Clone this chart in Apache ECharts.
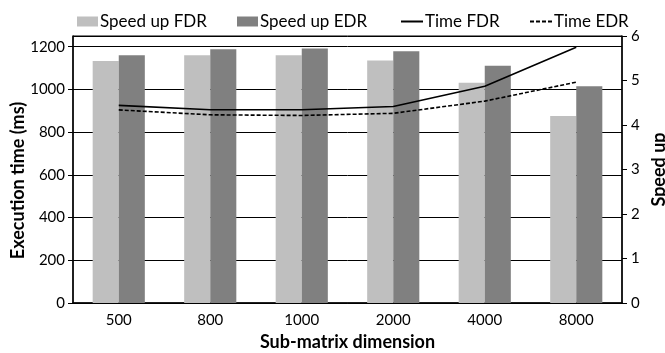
<!DOCTYPE html>
<html>
<head>
<meta charset="utf-8">
<script src="https://cdn.jsdelivr.net/npm/echarts@6/dist/echarts.min.js"></script>
<style>
  html, body { margin: 0; padding: 0; background: #fff; }
  #chart { width: 665px; height: 353px; }
</style>
</head>
<body>
<div id="chart"></div>
<script>
// values
const dims = ['500', '800', '1000', '2000', '4000', '8000'];
const speedupFDR = [5.44, 5.57, 5.57, 5.45, 4.95, 4.20];
const speedupEDR = [5.57, 5.70, 5.72, 5.66, 5.33, 4.87];
const timeFDR = [925, 905, 905, 920, 1015, 1197];
const timeEDR = [904, 881, 878, 888, 945, 1034];

const font = 'Lato';
const tickText = { fontFamily: font, fontSize: 15, color: '#000' };
const titleText = { fontFamily: font, fontSize: 18, fontWeight: 'bold', color: '#000' };
const legendText = { fontFamily: font, fontSize: 17, color: '#000' };

// one legend box per entry so each sits where the reference has it
function legendAt(left, name, isLine) {
  const item = { name: name };
  if (isLine) item.itemStyle = { color: 'rgba(0,0,0,0)', borderWidth: 0 };
  else item.icon = 'rect';
  return {
    left: left,
    top: 8,
    itemWidth: isLine ? 22 : 21,
    itemHeight: 10,
    textStyle: Object.assign({ padding: [0, 0, 0, -3] }, legendText),
    data: [item]
  };
}

const chart = echarts.init(document.getElementById('chart'));

chart.setOption({
  animation: false,
  legend: [
    legendAt(72, 'Speed up FDR', false),
    legendAt(232, 'Speed up EDR', false),
    legendAt(395, 'Time FDR', true),
    legendAt(524, 'Time EDR', true)
  ],
  grid: {
    left: 73,
    right: 43,
    top: 36,
    bottom: 50,
    outerBoundsMode: 'none',
    show: true,
    borderColor: '#000',
    borderWidth: 1
  },
  xAxis: {
    type: 'category',
    data: dims,
    name: 'Sub-matrix dimension',
    nameLocation: 'middle',
    nameGap: 27,
    nameTextStyle: titleText,
    axisLine: { lineStyle: { color: '#000', width: 1.5 } },
    axisTick: { length: 5, lineStyle: { color: '#000' } },
    axisLabel: Object.assign({ margin: 10 }, tickText)
  },
  yAxis: [
    {
      type: 'value',
      min: 0,
      max: 1250,
      interval: 200,
      name: 'Execution time (ms)',
      nameLocation: 'middle',
      nameGap: 46,
      nameMoveOverlap: false,
      nameTextStyle: Object.assign({ padding: [0, 22, 0, 0] }, titleText),
      axisLine: { show: true, lineStyle: { color: '#000', width: 1.5 } },
      axisTick: { show: true, length: 5, lineStyle: { color: '#000' } },
      axisLabel: Object.assign({
        margin: 8,
        showMaxLabel: false,
        formatter: v => String(v)
      }, tickText),
      splitLine: { show: true, lineStyle: { color: '#000', width: 1 } }
    },
    {
      type: 'value',
      min: 0,
      max: 6,
      interval: 1,
      position: 'right',
      name: 'Speed up',
      nameLocation: 'middle',
      nameGap: 28,
      nameMoveOverlap: false,
      nameRotate: 90,
      nameTextStyle: titleText,
      axisLine: { show: true, lineStyle: { color: '#000', width: 1.5 } },
      axisTick: { show: true, length: 5, lineStyle: { color: '#000' } },
      axisLabel: Object.assign({ margin: 9 }, tickText),
      splitLine: { show: false }
    }
  ],
  series: [
    {
      name: 'Speed up FDR',
      type: 'bar',
      yAxisIndex: 1,
      data: speedupFDR,
      barGap: '0%',
      barCategoryGap: '43%',
      itemStyle: { color: '#bfbfbf' }
    },
    {
      name: 'Speed up EDR',
      type: 'bar',
      yAxisIndex: 1,
      data: speedupEDR,
      itemStyle: { color: '#808080' }
    },
    {
      name: 'Time FDR',
      type: 'line',
      yAxisIndex: 0,
      data: timeFDR,
      symbol: 'none',
      lineStyle: { color: '#000', width: 1.6 },
      itemStyle: { color: '#000' },
      z: 5
    },
    {
      name: 'Time EDR',
      type: 'line',
      yAxisIndex: 0,
      data: timeEDR,
      symbol: 'none',
      lineStyle: { color: '#000', width: 1.6, type: [4, 2] },
      itemStyle: { color: '#000' },
      z: 5
    }
  ]
});
</script>
</body>
</html>
